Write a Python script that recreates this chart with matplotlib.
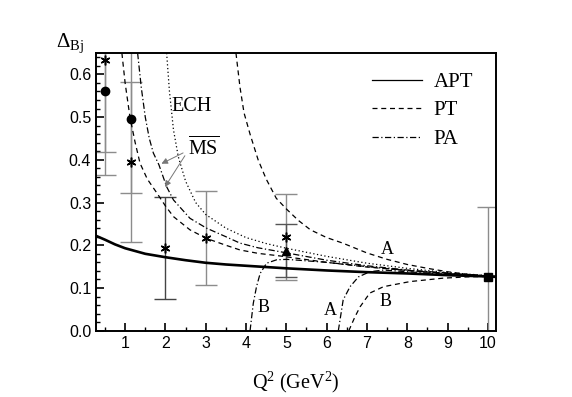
import numpy as np
import matplotlib
matplotlib.use('Agg')
import matplotlib.pyplot as plt

# APT (solid)
apt_q = [0.28, 0.5, 0.75, 1.0, 1.5, 2.0, 2.5, 3.0, 3.5, 4.0, 4.5, 5.0, 6.0, 7.0, 8.0, 9.0, 10.0, 10.2]
apt_v = [0.222, 0.213, 0.202, 0.193, 0.180, 0.172, 0.165, 0.159, 0.155, 0.152, 0.149, 0.146, 0.141, 0.137, 0.134, 0.130, 0.127, 0.126]

# PT, MS-bar scheme (dashed)
pt_ms_q = [0.92, 1.0, 1.12, 1.25, 1.37, 1.55, 1.79, 2.0, 2.2, 2.61, 3.02, 3.5, 3.85, 4.3, 4.84, 6.0, 7.0, 8.0, 9.0, 10.0, 10.2]
pt_ms_v = [0.65, 0.58, 0.50, 0.44, 0.392, 0.355, 0.322, 0.292, 0.267, 0.236, 0.216, 0.200, 0.189, 0.181, 0.175, 0.160, 0.149, 0.141, 0.134, 0.128, 0.127]

# PA, MS-bar scheme (dash-dot)
pa_ms_q = [1.31, 1.4, 1.5, 1.6, 1.7, 1.84, 2.03, 2.2, 2.61, 3.02, 3.5, 3.85, 4.3, 4.84, 6.0, 7.0, 8.0, 9.0, 10.0, 10.2]
pa_ms_v = [0.65, 0.57, 0.50, 0.45, 0.416, 0.388, 0.337, 0.306, 0.263, 0.240, 0.220, 0.205, 0.194, 0.185, 0.165, 0.152, 0.142, 0.135, 0.128, 0.127]

# ECH (dotted)
ech_q = [2.03, 2.1, 2.2, 2.32, 2.5, 2.75, 3.0, 3.5, 4.0, 4.5, 5.0, 6.0, 7.0, 8.0, 9.0, 10.0, 10.2]
ech_v = [0.65, 0.56, 0.47, 0.407, 0.35, 0.30, 0.272, 0.240, 0.218, 0.204, 0.193, 0.174, 0.158, 0.146, 0.136, 0.129, 0.128]

# PT, scheme A and B (dashed)
pt_a_q = [3.75, 3.85, 3.95, 4.1, 4.3, 4.5, 4.75, 5.0, 5.3, 5.6, 6.0, 6.4, 7.0, 7.5, 8.0, 8.5, 9.0, 9.5, 10.0, 10.2]
pt_a_v = [0.65, 0.57, 0.51, 0.46, 0.40, 0.355, 0.31, 0.285, 0.258, 0.236, 0.218, 0.205, 0.182, 0.167, 0.155, 0.146, 0.138, 0.132, 0.128, 0.1265]
pt_b_q = [6.55, 6.7, 6.83, 7.07, 7.41, 8.07, 8.89, 9.5, 10.0, 10.2]
pt_b_v = [0.0, 0.032, 0.056, 0.088, 0.103, 0.115, 0.123, 0.126, 0.127, 0.127]

# PA, scheme A and B (dash-dot)
pa_a_q = [6.29, 6.41, 6.58, 6.79, 7.07, 7.41, 8.0, 9.0, 10.0, 10.2]
pa_a_v = [0.0, 0.072, 0.103, 0.126, 0.138, 0.142, 0.138, 0.132, 0.128, 0.127]
pa_b_q = [4.10, 4.18, 4.26, 4.35, 4.51, 4.76, 5.01, 6.0, 7.0, 8.0, 9.0, 10.0, 10.2]
pa_b_v = [0.0, 0.064, 0.103, 0.134, 0.158, 0.166, 0.167, 0.160, 0.150, 0.141, 0.134, 0.128, 0.127]

# data points
circ_q = [0.5, 1.15]
circ_v = [0.562, 0.496]
circ_e = [0.197, 0.174]
star_q = [0.5, 1.15, 3.0, 5.0]
star_v = [0.633, 0.394, 0.218, 0.219]
star_e = [0.215, 0.187, 0.110, 0.100]
star2_q = [2.0]
star2_v = [0.194]
star2_e = [0.120]
tri_q = [5.0]
tri_v = [0.187]
tri_e = [0.062]
sq_q = [10.0]
sq_v = [0.126]
sq_e = [0.164]

serif = 'Liberation Serif'
sans = 'Liberation Sans'

plt.rcParams['mathtext.fontset'] = 'custom'
plt.rcParams['mathtext.rm'] = serif
plt.rcParams['mathtext.it'] = serif + ':italic'
plt.rcParams['mathtext.sf'] = serif

fig = plt.figure(figsize=(5.72, 3.97), dpi=100)
ax = fig.add_axes([0.168, 0.167, 0.699, 0.6995])

# error bars
ebk = dict(fmt='none', capsize=8, elinewidth=1.0, capthick=1.0, zorder=2)
ax.errorbar(circ_q, circ_v, yerr=circ_e, ecolor='#8c8c8c', **ebk)
ax.errorbar(star_q, star_v, yerr=star_e, ecolor='#8c8c8c', **ebk)
ax.errorbar(star2_q, star2_v, yerr=star2_e, ecolor='#444444', **ebk)
ax.errorbar(tri_q, tri_v, yerr=tri_e, ecolor='#555555', **ebk)
ax.errorbar(sq_q, sq_v, yerr=sq_e, ecolor='#8c8c8c', **ebk)

# curves
ax.plot(apt_q, apt_v, color='black', lw=1.9, label='APT', zorder=4)
ax.plot(pt_ms_q, pt_ms_v, color='black', lw=0.9, ls=(0, (4, 3)), label='PT', zorder=3)
ax.plot(pa_ms_q, pa_ms_v, color='black', lw=0.9, ls=(0, (5, 2, 1, 2)), label='PA', zorder=3)
ax.plot(ech_q, ech_v, color='black', lw=0.9, ls=(0, (1, 2)), zorder=3)
ax.plot(pt_a_q, pt_a_v, color='black', lw=0.9, ls=(0, (4, 3)), zorder=3)
ax.plot(pt_b_q, pt_b_v, color='black', lw=0.9, ls=(0, (4, 3)), zorder=3)
ax.plot(pa_a_q, pa_a_v, color='black', lw=0.9, ls=(0, (5, 2, 1, 2)), zorder=3)
ax.plot(pa_b_q, pa_b_v, color='black', lw=0.9, ls=(0, (5, 2, 1, 2)), zorder=3)

# markers
ax.plot(circ_q, circ_v, 'o', color='black', ms=6, zorder=5)
ax.plot(star_q + star2_q, star_v + star2_v, marker=(6, 2, 0), ls='none', color='black', ms=7, mew=1.1, zorder=5)
ax.plot(tri_q, tri_v, '^', color='black', ms=6, zorder=5)
ax.plot(sq_q, sq_v, 's', color='black', ms=6, zorder=5)

# text labels
ax.text(2.65, 0.525, 'ECH', family=serif, fontsize=14.5, ha='center', va='center')
ax.text(2.94, 0.431, r'$\overline{\rm MS}$', fontsize=14.5, ha='center', va='center')
ax.annotate('', xy=(1.84, 0.388), xytext=(2.5, 0.419),
            arrowprops=dict(arrowstyle='-|>', color='#777777', lw=0.7, mutation_scale=9))
ax.annotate('', xy=(1.95, 0.331), xytext=(2.52, 0.415),
            arrowprops=dict(arrowstyle='-|>', color='#777777', lw=0.7, mutation_scale=9))
ax.text(7.5, 0.189, 'A', family=serif, fontsize=13, ha='center', va='center')
ax.text(7.46, 0.068, 'B', family=serif, fontsize=13, ha='center', va='center')
ax.text(6.08, 0.048, 'A', family=serif, fontsize=13, ha='center', va='center')
ax.text(4.43, 0.055, 'B', family=serif, fontsize=13, ha='center', va='center')

ax.set_xlim(0.28, 10.2)
ax.set_ylim(0.0, 0.65)
ax.set_xticks([1, 2, 3, 4, 5, 6, 7, 8, 9, 10])
ax.set_xticks(np.arange(0.5, 10.2, 0.5), minor=True)
ax.set_yticks([0.0, 0.1, 0.2, 0.3, 0.4, 0.5, 0.6])
ax.set_yticks(np.arange(0.0, 0.65, 0.02), minor=True)
ax.yaxis.set_major_formatter(matplotlib.ticker.FormatStrFormatter('%.1f'))
ax.tick_params(which='both', direction='in', top=False, right=False, labelsize=11.5)
ax.tick_params(which='major', length=6, width=1.2)
ax.tick_params(which='minor', length=3, width=1.0)
for lab in ax.get_xticklabels() + ax.get_yticklabels():
    lab.set_family(sans)
for s in ax.spines.values():
    s.set_linewidth(1.4)

ax.set_xlabel(r'Q$^2$ (GeV$^2$)', family=serif, fontsize=14.5, labelpad=14)
ax.text(-0.065, 1.035, r'$\Delta_{\rm Bj}$', transform=ax.transAxes, fontsize=15,
        ha='center', va='center')

leg = ax.legend(loc='upper left', bbox_to_anchor=(0.643, 0.997), frameon=False,
                prop={'family': serif, 'size': 15}, handlelength=2.4,
                handletextpad=0.55, labelspacing=0.42)
for h in leg.get_lines():
    h.set_linewidth(0.9)

fig.savefig('out.png', dpi=100)
